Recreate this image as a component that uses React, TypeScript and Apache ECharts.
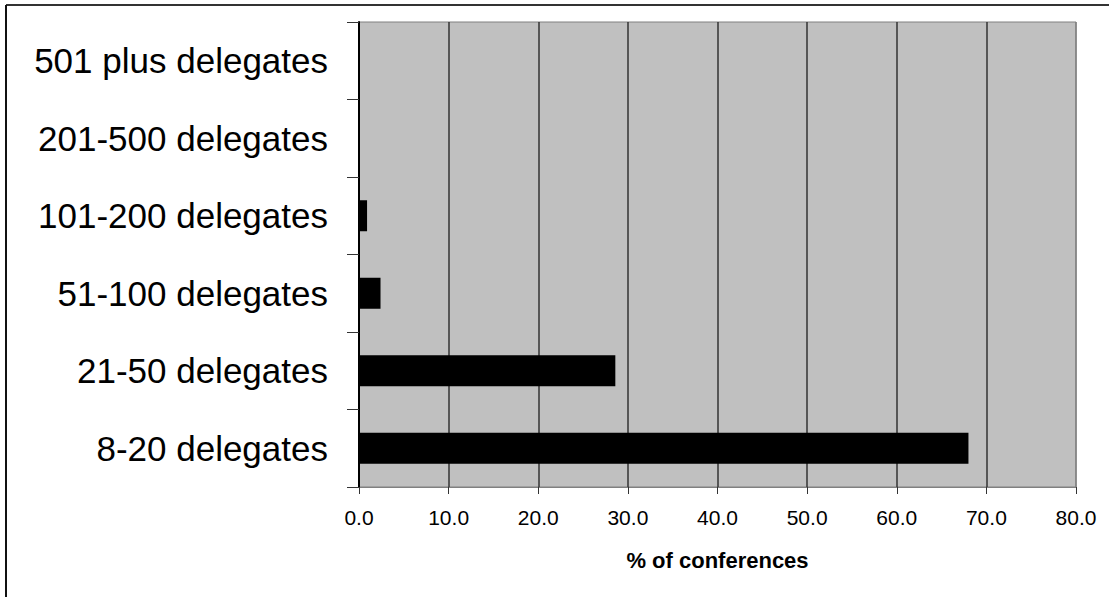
import React, { useEffect, useRef } from "react";
import * as echarts from "echarts";

// Conference size bands, bottom to top
const categories = [
  "8-20 delegates",
  "21-50 delegates",
  "51-100 delegates",
  "101-200 delegates",
  "201-500 delegates",
  "501 plus delegates",
];

// Share of conferences in each band (%)
const shares = [68.0, 28.6, 2.4, 0.9, 0, 0];

const xTicks = { min: 0, max: 80, interval: 10 };
const xAxisTitle = "% of conferences";

export default function App() {
  const ref = useRef<HTMLDivElement>(null);

  useEffect(() => {
    if (!ref.current) return;
    const chart = echarts.init(ref.current, null, { renderer: "svg" });
    const font = "Liberation Sans, Arial, sans-serif";
    const gridColors = ["#808080", "#333333", "#333333", "#333333", "#333333", "#333333", "#333333", "#333333", "#808080"];

    chart.setOption({
      animation: false,
      backgroundColor: "#ffffff",
      grid: {
        left: 359,
        top: 22,
        right: 33,
        bottom: 110,
        show: true,
        backgroundColor: "#c0c0c0",
        borderColor: "#808080",
        borderWidth: 1,
      },
      xAxis: {
        type: "value",
        min: xTicks.min,
        max: xTicks.max,
        interval: xTicks.interval,
        name: xAxisTitle,
        nameLocation: "middle",
        nameGap: 62,
        nameTextStyle: { fontFamily: font, fontSize: 22, fontWeight: "bold", color: "#000" },
        axisLine: { show: true, lineStyle: { color: "#808080", width: 1 } },
        axisTick: { show: true, length: 7, lineStyle: { color: "#333333" } },
        axisLabel: {
          fontFamily: font,
          fontSize: 21,
          color: "#000",
          margin: 20,
          formatter: (v: number) => v.toFixed(1),
        },
        splitLine: { show: true, lineStyle: { color: gridColors, width: 1.5 } },
      },
      yAxis: {
        type: "category",
        data: categories,
        axisLine: { show: true, lineStyle: { color: "#000", width: 2 } },
        axisTick: { show: true, length: 12, lineStyle: { color: "#333333" } },
        axisLabel: { fontFamily: font, fontSize: 35, color: "#000", margin: 31 },
        splitLine: { show: false },
      },
      series: [
        {
          type: "bar",
          data: shares,
          barWidth: "40%",
          itemStyle: { color: "#000000" },
        },
      ],
      graphic: [
        { type: "line", shape: { x1: 6, y1: 5, x2: 1109, y2: 5 }, style: { stroke: "#333", lineWidth: 2 } },
        { type: "line", shape: { x1: 6, y1: 5, x2: 6, y2: 597 }, style: { stroke: "#111", lineWidth: 2 } },
      ],
    });
    return () => chart.dispose();
  }, []);

  return (
    <div
      ref={ref}
      style={{ position: "fixed", left: 0, top: 0, width: 1109, height: 597 }}
    />
  );
}
